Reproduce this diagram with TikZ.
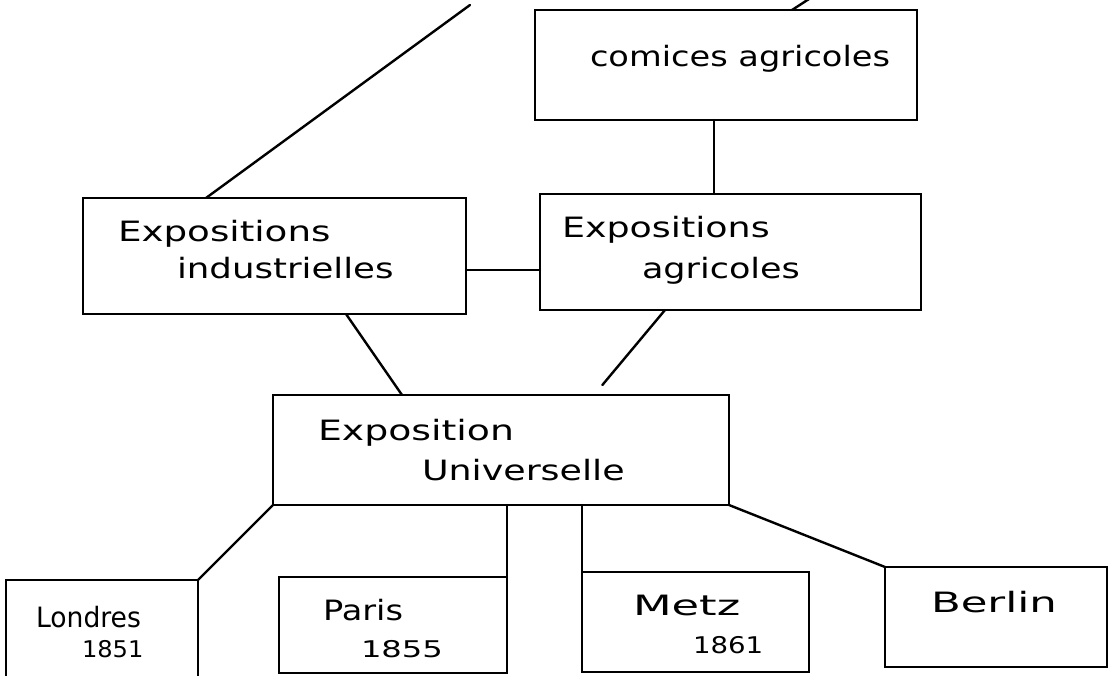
\documentclass[tikz,border=0pt]{standalone}
\usepackage{fontspec}
\setmainfont{DejaVu Sans}
\newcommand\hw[2]{\scalebox{#1}[1]{#2}}
\begin{document}
\begin{tikzpicture}[x=1pt,y=-1pt,
  box/.style={draw, line width=2.6pt, inner sep=0pt, outer sep=0pt, anchor=north west},
  conn/.style={line width=2.4pt, line cap=round},
  lbl/.style={anchor=base west, inner sep=0pt, outer sep=0pt, font=\fontsize{28}{30}\selectfont},
  yr/.style={lbl, font=\fontsize{23}{25}\selectfont}]
\clip (0,0) rectangle (1110,676);
\fill[white] (0,0) rectangle (1110,676);

% boxes
\node[box, minimum width=382pt, minimum height=110pt] (com) at (535,10) {};
\node[box, minimum width=381pt, minimum height=116pt] (agr) at (540,194) {};
\node[box, minimum width=383pt, minimum height=116pt] (ind) at (83,198) {};
\node[box, minimum width=456pt, minimum height=110pt] (uni) at (273,395) {};
\node[box, minimum width=192pt, minimum height=130pt] (lon) at (6,580) {};
\node[box, minimum width=228pt, minimum height=96pt] (par) at (279,577) {};
\node[box, minimum width=227pt, minimum height=100pt] (met) at (582,572) {};
\node[box, minimum width=222pt, minimum height=100pt] (ber) at (885,567) {};

% free ends at the top
\coordinate (top1) at (470,5);
\coordinate (top2) at (809,-1);

% connectors
\draw[conn] ([xshift=123pt]ind.north west) -- (top1);
\draw[conn] ([xshift=257pt]com.north west) -- (top2);
\draw[conn] ([xshift=179pt]com.south west) -- ([xshift=174pt]agr.north west);
\draw[conn] ([yshift=-72pt]ind.north east) -- ([yshift=-76pt]agr.north west);
\draw[conn] ([xshift=263pt]ind.south west) -- ([xshift=129pt]uni.north west);
\draw[conn, shorten >=13pt] ([xshift=125pt]agr.south west) -- ([xshift=321pt]uni.north west);
\draw[conn] (uni.south west) -- (lon.north east);
\draw[conn] (par.north east) -- (par.north east |- uni.south);
\draw[conn] (met.north west) -- (met.north west |- uni.south);
\draw[conn] (uni.south east) -- (ber.north west);

% labels
\node[lbl] (t-com) at (590,67) {\hw{1.2}{comices agricoles}};
\node[lbl] (t-ind1) at (118,242) {\hw{1.33}{Expositions}};
\node[lbl] (t-ind2) at (177,278) {\hw{1.27}{industrielles}};
\node[lbl] (t-agr1) at (562,238) {\hw{1.3}{Expositions}};
\node[lbl] (t-agr2) at (642,278) {\hw{1.25}{agricoles}};
\node[lbl] (t-uni1) at (318,440) {\hw{1.35}{Exposition}};
\node[lbl] (t-uni2) at (422,480) {\hw{1.3}{Universelle}};
\node[lbl] (t-lon) at (36,627) {\hw{0.95}{Londres}};
\node[yr] (y-lon) at (82,657) {\hw{1.05}{1851}};
\node[lbl] (t-par) at (323,620) {\hw{1.2}{Paris}};
\node[yr] (y-par) at (361,657) {\hw{1.4}{1855}};
\node[lbl] (t-met) at (633,615) {\hw{1.6}{Metz}};
\node[yr] (y-met) at (693,653) {\hw{1.2}{1861}};
\node[lbl] (t-ber) at (931,612) {\hw{1.55}{Berlin}};
\end{tikzpicture}
\end{document}
